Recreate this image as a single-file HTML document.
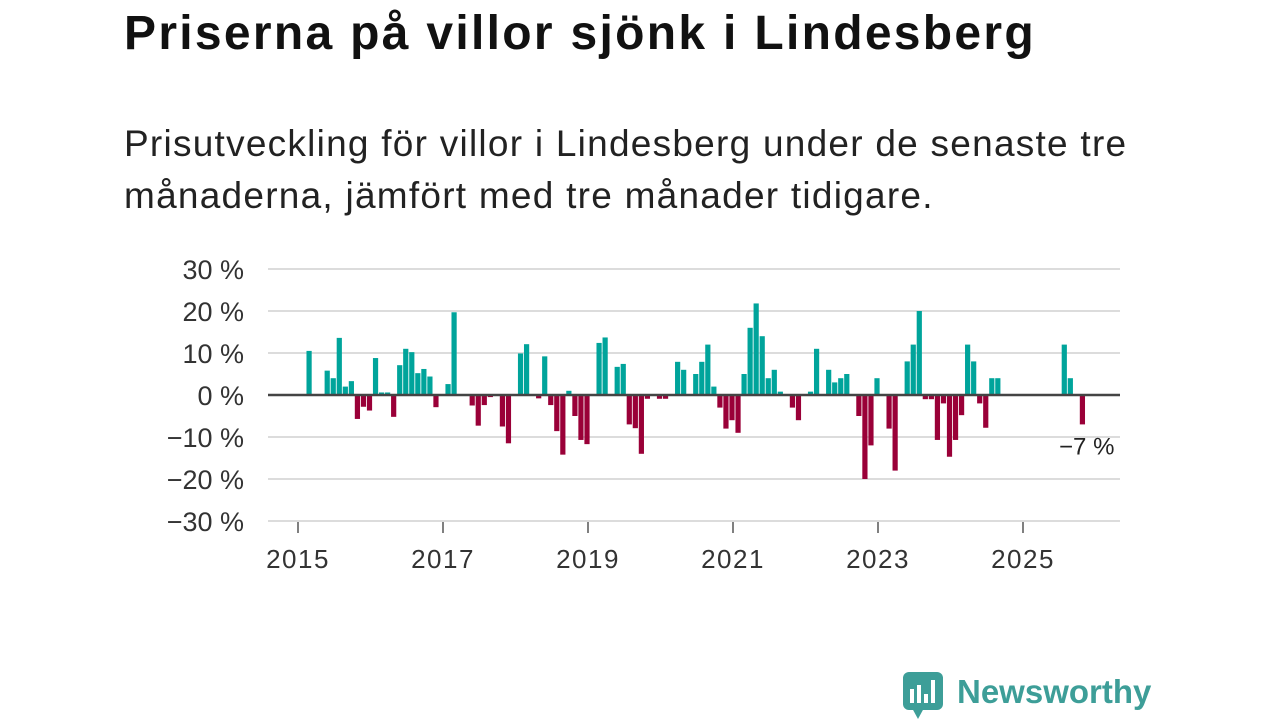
<!DOCTYPE html>
<html><head><meta charset="utf-8">
<style>
body{margin:0;width:1280px;height:720px;background:#fff;overflow:hidden;font-family:"Liberation Sans",sans-serif;}
#title{position:absolute;left:124px;top:6px;font-size:48px;font-weight:bold;color:#111;margin:0;letter-spacing:2.3px;white-space:nowrap}
#sub{position:absolute;left:124px;top:118px;font-size:37px;line-height:52px;color:#222;margin:0;letter-spacing:1.25px;white-space:nowrap}
svg{position:absolute;left:0;top:0}
</style></head><body>
<h1 id="title">Priserna på villor sjönk i Lindesberg</h1>
<p id="sub">Prisutveckling för villor i Lindesberg under de senaste tre<br>månaderna, jämfört med tre månader tidigare.</p>
<svg id="chart" width="1280" height="720"></svg>
<script>
const startMonth = 2; // months since Jan 2015 of first value
const values = [10.5,null,null,5.8,4,13.6,2,3.3,-5.7,-2.8,-3.7,8.8,0.6,0.6,-5.2,7.1,11,10.2,5.2,6.2,4.4,-2.9,null,2.6,19.7,null,null,-2.5,-7.3,-2.4,-0.5,null,-7.5,-11.5,null,9.9,12.1,null,-0.8,9.2,-2.4,-8.6,-14.2,1,-5,-10.7,-11.7,null,12.4,13.7,null,6.7,7.4,-7,-7.9,-14,-0.9,null,-0.9,-0.9,null,7.9,6,null,5,7.9,12,2,-3,-8,-6,-9,5,16,21.8,14,4,6,0.8,null,-3,-6,null,0.8,11,null,6,3,4,5,null,-5,-20,-12,4,null,-8,-18,null,8,12,20,-1,-1,-10.7,-2,-14.7,-10.7,-4.8,12,8,-2,-7.8,4,4,null,null,null,null,null,null,null,null,null,null,12,4,null,-7];
const yTicks = [30,20,10,0,-10,-20,-30];
const yTickLabels = ["30 %","20 %","10 %","0 %","−10 %","−20 %","−30 %"];
const xTickYears = [2015,2017,2019,2021,2023,2025];
const lastLabel = "−7 %";

const NS="http://www.w3.org/2000/svg";
const svg=document.getElementById('chart');
const x=m=>298+m*(1023-298)/120;
const y=v=>395-v*4.2;
function mk(t,a){const e=document.createElementNS(NS,t);for(const k in a)e.setAttribute(k,a[k]);svg.appendChild(e);return e;}
yTicks.forEach((t,i)=>{
  if(t!==0){const g=mk('line',{x1:268,x2:1120,y1:y(t),y2:y(t),stroke:'#dcdcdc','stroke-width':2});
  
  }
  const l=mk('text',{x:244,y:y(t)+10,'text-anchor':'end','font-size':27,fill:'#333'});
  l.textContent=yTickLabels[i];
  
  
});
xTickYears.forEach(yr=>{
  const m=(yr-2015)*12;
  const t=mk('line',{x1:x(m),x2:x(m),y1:522,y2:533,stroke:'#555','stroke-width':1.5});
  
  
  const l=mk('text',{x:x(m),y:568,'text-anchor':'middle','font-size':26,'letter-spacing':1.5,fill:'#333'});
  l.textContent=yr;
  
  
});
let lastI=-1;
values.forEach((v,i)=>{
  if(v===null)return;
  lastI=i;
  const cx=x(startMonth+i)-1;
  const b=mk('rect',{x:cx-2.6,width:5.2,y:Math.min(y(v),y(0)),height:Math.abs(y(v)-y(0)),fill:v>=0?'#00a49b':'#9a0038'});
  
  
});
const z=mk('line',{x1:268,x2:1120,y1:y(0),y2:y(0),stroke:'#444','stroke-width':2.5});


const ll=mk('text',{x:x(startMonth+lastI)+31,y:y(values[lastI])+30,'text-anchor':'end','font-size':24,fill:'#222'});
ll.textContent=lastLabel;


</script>
<svg width="1280" height="720" style="position:absolute;left:0;top:0">
<rect x="903" y="672" width="40" height="38" rx="6" fill="#3d9e98"/>
<path d="M912 708 L918 719 L924 708 Z" fill="#3d9e98"/>
<rect x="910" y="689" width="4" height="14" fill="#fff"/>
<rect x="917" y="685" width="4" height="18" fill="#fff"/>
<rect x="924" y="694" width="4" height="9" fill="#fff"/>
<rect x="931" y="680" width="4" height="23" fill="#fff"/>
<text x="957" y="703" font-size="33" font-weight="bold" fill="#3d9e98" font-family="Liberation Sans, sans-serif">Newsworthy</text>
</svg>
</body></html>
